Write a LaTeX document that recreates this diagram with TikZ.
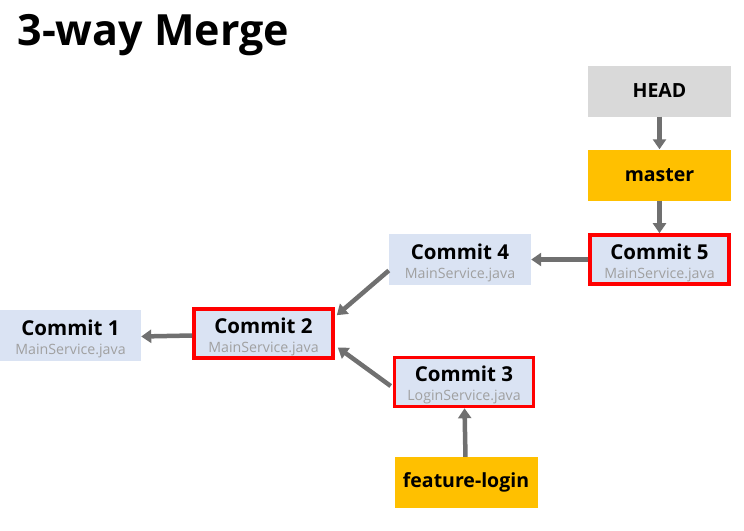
\documentclass[tikz,border=0pt]{standalone}
\usepackage{fontspec}
\setmainfont{Open Sans}
\usetikzlibrary{arrows.meta}

\definecolor{commitblue}{HTML}{DAE3F3}
\definecolor{headgray}{HTML}{D9D9D9}
\definecolor{branchgold}{HTML}{FFC000}
\definecolor{arrowgray}{HTML}{707070}
\definecolor{filegray}{HTML}{A0A0A0}

\tikzset{
    commit/.style={fill=commitblue, minimum width=142pt, minimum height=52pt,
        inner sep=0pt, align=center, font=\bfseries\fontsize{20.5}{21}\selectfont},
    current/.style={commit, draw=red, line width=3.6pt, minimum width=139pt, minimum height=49pt},
    branch/.style={fill=branchgold, minimum width=143pt, minimum height=51pt,
        inner sep=0pt, font=\bfseries\fontsize{19.5}{21}\selectfont},
    pointer/.style={branch, fill=headgray},
    parent/.style={draw=arrowgray, line width=4.5pt, -{Triangle[length=10pt,width=13pt]}},
}

% Commit-Titel und Dateiname
\newcommand{\commitfile}[2]{\rule{0pt}{22pt}#1\\[-2pt]{\mdseries\fontsize{14.2}{15}\selectfont\color{filegray}#2}}

\begin{document}
\begin{tikzpicture}[x=1pt, y=-1pt]
    \useasboundingbox (0,0) rectangle (744,530);

    % Titel
    \node[anchor=west, font=\bfseries\fontsize{43}{48}\selectfont] (title) at (14,35) {3-way Merge};

    % Zeiger
    \node[pointer] (head) at (659.5,91) {HEAD};
    \node[branch] (master) at (659.5,175) {master};
    \node[branch] (feature) at (466,482.5) {feature-login};

    % Commits
    \node[current] (c5) at (659.5,259.5) {\commitfile{Commit 5}{MainService.java}};
    \node[commit, minimum height=51pt] (c4) at (460,259.5) {\commitfile{Commit 4}{MainService.java}};
    \node[current] (c2) at (263.5,333.5) {\commitfile{Commit 2}{MainService.java}};
    \node[commit, minimum width=141pt, minimum height=51pt] (c1) at (70.5,335.5) {\commitfile{Commit 1}{MainService.java}};
    \node[current] (c3) at (464,382) {\commitfile{Commit 3}{LoginService.java}};

    % Verweise
    \draw[parent] (head) -- (master);
    \draw[parent] (master) -- (c5);
    \draw[parent] (c5) -- (c4);
    \draw[parent] ([yshift=-11pt]c4.west) -- ([shift={(2pt,-8pt)}]c2.north east);
    \draw[parent] ([shift={(-2pt,-4pt)}]c3.west) -- ([shift={(3pt,-14pt)}]c2.east);
    \draw[parent] ([yshift=-2pt]c2.west) -- ([yshift=-1pt]c1.east);
    \draw[parent] (feature) -- (c3);
\end{tikzpicture}
\end{document}
